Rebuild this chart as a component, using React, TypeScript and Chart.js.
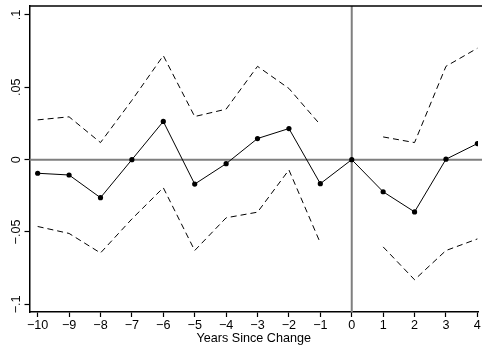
import React, { useEffect, useRef } from "react";
import { Chart, registerables } from "chart.js";

Chart.register(...registerables);

const years = [-10, -9, -8, -7, -6, -5, -4, -3, -2, -1, 0, 1, 2, 3, 4];
const coef = [-0.0094, -0.0106, -0.0263, 0.0, 0.0264, -0.0169, -0.0028, 0.0146, 0.0215, -0.0166, 0.0, -0.0222, -0.0361, 0.0003, 0.0111];
const upperCI = [0.0275, 0.0296, 0.0118, 0.041, 0.0719, 0.0298, 0.0349, 0.0645, 0.0492, 0.0241, null, 0.0157, 0.0118, 0.0645, 0.077];
const lowerCI = [-0.0462, -0.051, -0.0645, -0.041, -0.0194, -0.0628, -0.0402, -0.0363, -0.0071, -0.0576, null, -0.0603, -0.083, -0.0628, -0.0548];
const xTickLabels = ["\u221210", "\u22129", "\u22128", "\u22127", "\u22126", "\u22125", "\u22124", "\u22123", "\u22122", "\u22121", "0", "1", "2", "3", "4"];
const yTickValues = [-0.1, -0.05, 0, 0.05, 0.1];
const yTickLabels = ["\u2212.1", "\u2212.05", "0", ".05", ".1"];
const xTitle = "Years Since Change";

const FONT = "'Liberation Sans', Arial, Helvetica, sans-serif";
const FSIZE = 12.6;

const refLinesPlugin = {
  id: "refLines",
  beforeDatasetsDraw(chart: any) {
    const { ctx, chartArea, scales } = chart;
    const y0 = scales.y.getPixelForValue(0);
    const x0 = scales.x.getPixelForValue(0);
    ctx.save();
    ctx.strokeStyle = "#7f7f7f";
    ctx.lineWidth = 2;
    ctx.beginPath();
    ctx.moveTo(chartArea.left, y0);
    ctx.lineTo(chart.width, y0);
    ctx.moveTo(x0, chartArea.top);
    ctx.lineTo(x0, chartArea.bottom);
    ctx.stroke();
    ctx.restore();
  },
  afterDraw(chart: any) {
    const { ctx, chartArea, scales } = chart;
    ctx.save();
    ctx.strokeStyle = "#000";
    ctx.lineWidth = 1.5;
    ctx.beginPath();
    ctx.moveTo(chartArea.left, chartArea.top);
    ctx.lineTo(chart.width, chartArea.top);
    ctx.stroke();
    ctx.fillStyle = "#000";
    ctx.font = `${FSIZE}px ${FONT}`;
    ctx.textAlign = "center";
    ctx.textBaseline = "alphabetic";
    yTickValues.forEach((v, i) => {
      const py = scales.y.getPixelForValue(v);
      ctx.save();
      ctx.translate(20, py);
      ctx.rotate(-Math.PI / 2);
      ctx.fillText(yTickLabels[i], 0, 0);
      ctx.restore();
    });
    ctx.restore();
  },
};

export default function App() {
  const ref = useRef<HTMLCanvasElement | null>(null);
  useEffect(() => {
    document.body.style.margin = "0";
    const pts = (arr: (number | null)[]) => years.map((x, i) => ({ x, y: arr[i] }));
    const chart = new Chart(ref.current!, {
      type: "line",
      data: {
        datasets: [
          {
            data: pts(upperCI) as any,
            borderColor: "#000",
            borderWidth: 1,
            borderDash: [6, 4],
            pointRadius: 0,
            spanGaps: false,
            tension: 0,
          },
          {
            data: pts(lowerCI) as any,
            borderColor: "#000",
            borderWidth: 1,
            borderDash: [6, 4],
            pointRadius: 0,
            spanGaps: false,
            tension: 0,
          },
          {
            data: pts(coef) as any,
            borderColor: "#000",
            borderWidth: 1,
            pointRadius: 2.6,
            pointBackgroundColor: "#000",
            pointBorderColor: "#000",
            pointBorderWidth: 0,
            tension: 0,
          },
        ],
      },
      options: {
        animation: false,
        responsive: false,
        maintainAspectRatio: false,
        devicePixelRatio: 1,
        layout: { padding: { top: 6, right: 0, left: 0, bottom: 0 } },
        plugins: { legend: { display: false }, tooltip: { enabled: false } },
        scales: {
          x: {
            type: "linear",
            min: -10.26,
            max: 4.02,
            afterFit: (s: any) => { s.height = 38; },
            afterBuildTicks: (s: any) => { s.ticks = years.map((v) => ({ value: v })); },
            grid: { display: true, drawOnChartArea: false, drawTicks: true, tickLength: 5, tickWidth: 1.2, tickColor: "#000" },
            border: { display: true, color: "#000", width: 1.5 },
            ticks: {
              color: "#000",
              font: { size: FSIZE, family: FONT },
              padding: 1,
              maxRotation: 0,
              autoSkip: false,
              callback: (v: any) => {
                const i = years.indexOf(Number(v));
                return i >= 0 ? xTickLabels[i] : "";
              },
            },
            title: {
              display: true,
              text: xTitle,
              color: "#000",
              font: { size: FSIZE, family: FONT },
              padding: { top: 0, bottom: 4 },
            },
          },
          y: {
            type: "linear",
            min: -0.1053,
            max: 0.1062,
            afterFit: (s: any) => { s.width = 29.5; },
            afterBuildTicks: (s: any) => { s.ticks = yTickValues.map((v) => ({ value: v })); },
            grid: { display: true, drawOnChartArea: false, drawTicks: true, tickLength: 5, tickWidth: 1.2, tickColor: "#000" },
            border: { display: true, color: "#000", width: 1.5 },
            ticks: { display: false },
          },
        },
      },
      plugins: [refLinesPlugin],
    });
    return () => chart.destroy();
  }, []);
  return (
    <div style={{ position: "fixed", left: 0, top: 0, width: 482, height: 350, background: "#fff" }}>
      <canvas ref={ref} width={482} height={350} style={{ width: 482, height: 350 }} />
    </div>
  );
}
